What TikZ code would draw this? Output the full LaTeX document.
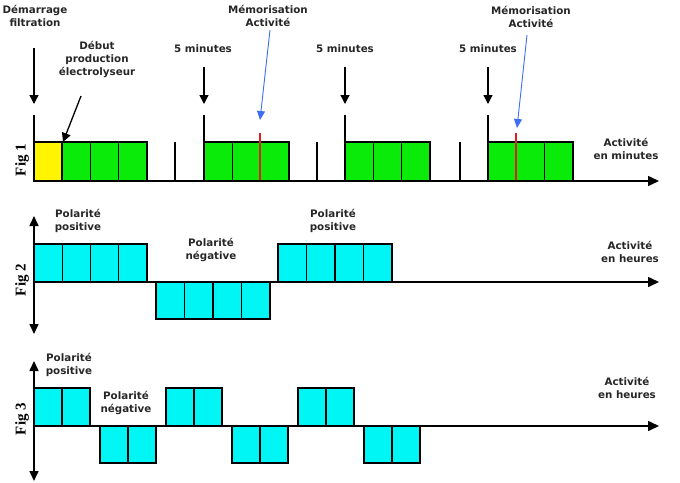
\documentclass[tikz,border=0pt]{standalone}
\usepackage{fontspec}
\setmainfont{DejaVu Sans}
\newfontfamily\figfont{Liberation Serif}
\usetikzlibrary{arrows.meta}
\definecolor{boxgreen}{RGB}{10,235,10}
\definecolor{boxyellow}{RGB}{255,245,0}
\definecolor{boxcyan}{RGB}{0,245,245}
\definecolor{memblue}{RGB}{60,110,240}
\definecolor{memred}{RGB}{225,30,30}
\begin{document}
\begin{tikzpicture}[x=1pt,y=-1pt,
  lbl/.style={font=\fontsize{10.3}{13}\selectfont\bfseries, align=center, text=black!85, inner sep=0pt},
  figlbl/.style={font=\figfont\fontsize{15}{15}\selectfont\bfseries, rotate=90, inner sep=0pt},
  ax/.style={line width=1.6pt, -{Triangle[length=11pt,width=10pt]}},
  dax/.style={line width=1.6pt, {Triangle[length=10pt,width=9pt]}-{Triangle[length=10pt,width=9pt]}},
  tickline/.style={line width=1.8pt},
  darr/.style={line width=1.3pt, -{Triangle[length=9pt,width=9pt]}},
  barr/.style={line width=0.9pt, draw=memblue, -{Triangle[length=9pt,width=8pt, fill=memblue]}},
  gbox/.style={draw=black, line width=1.1pt, fill=boxgreen},
  ybox/.style={draw=black, line width=1.1pt, fill=boxyellow},
  cbox/.style={draw=black, line width=1.1pt, fill=boxcyan},
  redline/.style={draw=memred, line width=1.5pt}]
\useasboundingbox (0,0) rectangle (680,482);

% ---------------- Fig 1 ----------------
\node[figlbl] (fig1) at (22,160) {Fig 1};
% boxes
\draw[ybox] (34,142) rectangle (62,181);
\foreach \s in {62,204,345,488}{
  \foreach \i in {0,1,2}{
    \draw[gbox] (\s+\i*28.33,142) rectangle ++(28.33,39);
  }
}
% ticks
\foreach \x/\n in {34/a,204/b,345/c,488/d}{
  \coordinate (t1\n) at (\x,115);
  \coordinate (b1\n) at (\x,181);
  \draw[tickline] (t1\n) -- (b1\n);
}
\foreach \x/\n in {175/a,317/b,460/c}{
  \coordinate (s1\n) at (\x,142);
  \coordinate (sb1\n) at (\x,181);
  \draw[tickline] (s1\n) -- (sb1\n);
}
% red marks
\coordinate (r1t) at (260,133); \coordinate (r1b) at (260,181);
\coordinate (r2t) at (516,133); \coordinate (r2b) at (516,181);
\draw[redline] (r1t) -- (r1b);
\draw[redline] (r2t) -- (r2b);
% axis
\coordinate (o1) at (33,181);
\coordinate (e1) at (659,181);
\draw[ax] (o1) -- (e1);
% labels
\node[lbl] (demarrage) at (35,16) {Démarrage\\filtration};
\node[lbl] (debut) at (97,59) {Début\\production\\électrolyseur};
\node[lbl] (min1) at (203,49) {5 minutes};
\node[lbl] (min2) at (345,49) {5 minutes};
\node[lbl] (min3) at (488,49) {5 minutes};
\node[lbl] (mem1) at (268,16) {Mémorisation\\Activité};
\node[lbl] (mem2) at (531,17) {Mémorisation\\Activité};
\node[lbl] (act1) at (626,149) {Activité\\en minutes};
% arrows
\coordinate (ad0) at (34,48);  \coordinate (ad1) at (34,104);
\coordinate (am10) at (204,67); \coordinate (am11) at (204,104);
\coordinate (am20) at (345,67); \coordinate (am21) at (345,104);
\coordinate (am30) at (488,67); \coordinate (am31) at (488,104);
\draw[darr] (ad0) -- (ad1);
\draw[darr] (am10) -- (am11);
\draw[darr] (am20) -- (am21);
\draw[darr] (am30) -- (am31);
\coordinate (deb0) at (81,96); \coordinate (deb1) at (63,142);
\draw[darr] (deb0) -- (deb1);
\coordinate (mb10) at (270,30); \coordinate (mb11) at (260,120);
\coordinate (mb20) at (527,35); \coordinate (mb21) at (517,128);
\draw[barr] (mb10) -- (mb11);
\draw[barr] (mb20) -- (mb21);

% ---------------- Fig 2 ----------------
\node[figlbl] (fig2) at (22,280) {Fig 2};
\foreach \i in {0,...,3}{
  \draw[cbox] (34+\i*28.25,244) rectangle ++(28.25,38);
  \draw[cbox] (156+\i*28.5,282) rectangle ++(28.5,37);
  \draw[cbox] (278+\i*28.5,244) rectangle ++(28.5,38);
}
\coordinate (o2) at (33,282);
\coordinate (e2) at (659,282);
\draw[ax] (o2) -- (e2);
\coordinate (v2t) at (34,216);
\coordinate (v2b) at (34,334);
\draw[dax] (v2b) -- (v2t);
\node[lbl] (pos21) at (78,221) {Polarité\\positive};
\node[lbl] (neg2) at (211,250) {Polarité\\négative};
\node[lbl] (pos22) at (333,221) {Polarité\\positive};
\node[lbl] (act2) at (630,252) {Activité\\en heures};

% ---------------- Fig 3 ----------------
\node[figlbl] (fig3) at (22,419) {Fig 3};
\foreach \s in {34,166,298}{
  \foreach \i in {0,1}{
    \draw[cbox] (\s+\i*28,388) rectangle ++(28,38);
  }
}
\foreach \s in {100,232,364}{
  \foreach \i in {0,1}{
    \draw[cbox] (\s+\i*28,426) rectangle ++(28,37);
  }
}
\coordinate (o3) at (33,426);
\coordinate (e3) at (659,426);
\draw[ax] (o3) -- (e3);
\coordinate (v3t) at (34,361);
\coordinate (v3b) at (34,481);
\draw[dax] (v3b) -- (v3t);
\node[lbl] (pos3) at (69,365) {Polarité\\positive};
\node[lbl] (neg3) at (126,403) {Polarité\\négative};
\node[lbl] (act3) at (627,388) {Activité\\en heures};
\end{tikzpicture}
\end{document}
